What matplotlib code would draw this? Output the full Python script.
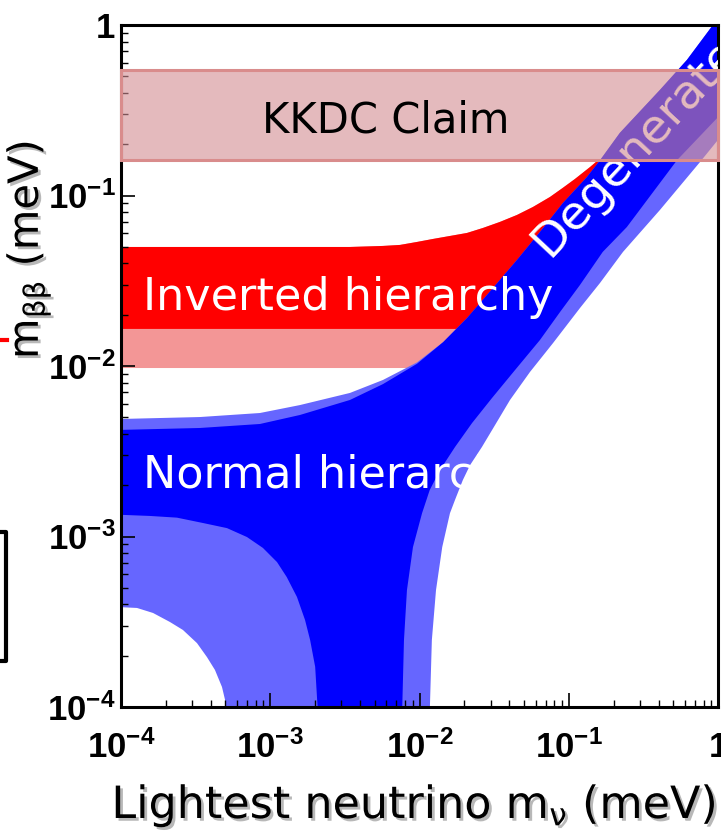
import numpy as np
import matplotlib
matplotlib.use("Agg")
import matplotlib.pyplot as plt
from matplotlib import patheffects
from matplotlib.patches import Rectangle
from matplotlib.lines import Line2D
from matplotlib.ticker import NullFormatter
import matplotlib.transforms as mtransforms

# --- band boundaries (lightest mass, m_bb), same units as the axes ---

# upper edge of the normal / degenerate band
nh_top_x = [1.0e-4, 3.38e-4, 8.53e-4, 1.58e-3, 3.42e-3, 5.69e-3, 9.62e-3, 1.44e-2, 2.08e-2,
            3.10e-2, 4.50e-2, 6.41e-2, 9.14e-2, 0.132, 0.162, 0.220, 0.408, 0.619, 0.925, 1.0]
nh_top_y = [4.22e-3, 4.33e-3, 4.57e-3, 5.16e-3, 6.32e-3, 7.83e-3, 1.03e-2, 1.38e-2, 1.91e-2,
            2.86e-2, 4.19e-2, 6.11e-2, 9.04e-2, 0.128, 0.161, 0.233, 0.416, 0.624, 1.0, 1.10]

# faint outer fringe above the plateau
nh_fringe_x = [1.0e-4, 3.38e-4, 8.53e-4, 1.58e-3, 3.42e-3, 5.69e-3, 9.62e-3]
nh_fringe_y = [4.89e-3, 5.02e-3, 5.30e-3, 5.90e-3, 6.95e-3, 8.28e-3, 1.05e-2]

# lower/right edge of the inner (dark) band
nh_inner_right_x = [1.0, 0.531, 0.245, 0.169, 0.119, 8.73e-2, 6.41e-2, 4.37e-2, 3.06e-2,
                    2.25e-2, 1.73e-2, 1.37e-2, 1.17e-2, 1.04e-2, 9.04e-3, 8.24e-3, 7.87e-3, 7.64e-3]
nh_inner_right_y = [0.288, 0.161, 6.53e-2, 4.67e-2, 2.99e-2, 2.07e-2, 1.42e-2, 9.48e-3, 6.49e-3,
                    4.63e-3, 3.35e-3, 2.45e-3, 1.87e-3, 1.37e-3, 8.67e-4, 4.85e-4, 2.47e-4, 9.0e-5]

# lower/right edge of the outer (light) band
nh_outer_right_x = [1.0, 0.757, 0.408, 0.231, 0.162, 0.119, 7.83e-2, 5.50e-2, 4.04e-2, 3.21e-2,
                    2.62e-2, 2.18e-2, 1.95e-2, 1.73e-2, 1.60e-2, 1.42e-2, 1.29e-2, 1.21e-2, 1.17e-2]
nh_outer_right_y = [0.212, 0.157, 8.22e-2, 4.67e-2, 3.07e-2, 2.19e-2, 1.36e-2, 9.23e-3, 6.32e-3,
                    4.51e-3, 3.35e-3, 2.62e-3, 2.14e-3, 1.64e-3, 1.37e-3, 8.67e-4, 4.85e-4,
                    2.47e-4, 9.0e-5]

# lower-left edge of the dark band (cancellation region)
nh_inner_left_x = [1.0e-4, 1.56e-4, 2.37e-4, 3.54e-4, 5.13e-4, 6.98e-4, 8.93e-4, 1.11e-3,
                   1.29e-3, 1.51e-3, 1.71e-3, 1.85e-3, 2.00e-3, 2.09e-3]
nh_inner_left_y = [1.34e-3, 1.32e-3, 1.29e-3, 1.20e-3, 1.12e-3, 9.93e-4, 8.57e-4, 7.08e-4,
                   5.78e-4, 4.42e-4, 3.24e-4, 2.47e-4, 1.72e-4, 9.0e-5]

# lower-left edge of the light band
nh_outer_left_x = [1.0e-4, 1.28e-4, 1.64e-4, 2.13e-4, 2.60e-4, 3.23e-4, 3.77e-4, 4.26e-4,
                   4.75e-4, 4.98e-4, 5.13e-4]
nh_outer_left_y = [3.85e-4, 3.81e-4, 3.56e-4, 3.15e-4, 2.83e-4, 2.37e-4, 1.96e-4, 1.65e-4,
                   1.31e-4, 1.10e-4, 9.0e-5]

# upper edge of the inverted band
ih_top_x = [1.0e-4, 1.58e-3, 3.42e-3, 5.69e-3, 7.40e-3, 9.62e-3, 1.23e-2, 1.60e-2, 2.08e-2,
            2.66e-2, 3.46e-2, 4.50e-2, 5.75e-2, 7.48e-2, 9.14e-2, 0.110, 0.139, 0.157]
ih_top_y = [4.99e-2, 4.99e-2, 4.99e-2, 5.06e-2, 5.13e-2, 5.34e-2, 5.56e-2, 5.79e-2, 6.03e-2,
            6.45e-2, 7.00e-2, 7.69e-2, 8.56e-2, 9.80e-2, 0.111, 0.125, 0.147, 0.161]

# lower edges of the inverted band (the part right of the plateau sits under the blue band)
ih_light_low_x = [0.238, 0.129, 5.50e-2, 2.18e-2, 1.37e-2, 1.0e-4]
ih_light_low_y = [0.151, 6.28e-2, 2.44e-2, 1.24e-2, 9.73e-3, 9.73e-3]
ih_dark_low_x = [0.238, 0.129, 5.50e-2, 2.97e-2, 1.0e-4]
ih_dark_low_y = [0.151, 6.28e-2, 2.44e-2, 1.65e-2, 1.65e-2]

# claimed signal range
kkdc_low, kkdc_high = 0.162, 0.545

decades = [1e-4, 1e-3, 1e-2, 1e-1, 1]
decade_labels = [r"$\mathregular{10^{-4}}$", r"$\mathregular{10^{-3}}$",
                 r"$\mathregular{10^{-2}}$", r"$\mathregular{10^{-1}}$", "1"]

LIGHT_BLUE = "#6666ff"
DARK_BLUE = "#0000ff"
LIGHT_RED = "#f39696"
DARK_RED = "#ff0000"

W, H = 721, 836
fig = plt.figure(figsize=(W / 100, H / 100), dpi=100)
ax = fig.add_axes([121 / W, 1 - 707 / H, 597 / W, 682 / H])
ax.set_xscale("log")
ax.set_yscale("log")

# inverted hierarchy first, the normal band is drawn over its lower part
ax.fill(np.concatenate([ih_top_x, ih_light_low_x]), np.concatenate([ih_top_y, ih_light_low_y]),
        color=LIGHT_RED, lw=0, zorder=1)
ax.fill(np.concatenate([ih_top_x, ih_dark_low_x]), np.concatenate([ih_top_y, ih_dark_low_y]),
        color=DARK_RED, lw=0, zorder=1.1)

outer_x = np.concatenate([nh_fringe_x, nh_top_x[7:], nh_outer_right_x, nh_outer_left_x[::-1]])
outer_y = np.concatenate([nh_fringe_y, nh_top_y[7:], nh_outer_right_y, nh_outer_left_y[::-1]])
ax.fill(outer_x, outer_y, color=LIGHT_BLUE, lw=0, zorder=1.2)

inner_x = np.concatenate([nh_top_x, nh_inner_right_x, nh_inner_left_x[::-1]])
inner_y = np.concatenate([nh_top_y, nh_inner_right_y, nh_inner_left_y[::-1]])
ax.fill(inner_x, inner_y, color=DARK_BLUE, lw=0, zorder=1.3)

ax.set_xlim(1e-4, 1)
ax.set_ylim(1e-4, 1)

label_font = "DejaVu Sans"
ax.text(1.40e-4, 2.13e-2, "Inverted hierarchy", color="white", fontsize=32,
        family=label_font, va="baseline", ha="left", zorder=4)
ax.text(1.40e-4, 1.92e-3, "Normal hierarchy", color="white", fontsize=32,
        family=label_font, va="baseline", ha="left", zorder=4)
ax.text(0.0740, 0.0430, "Degenerate", color="white", fontsize=34, family=label_font,
        rotation=47, rotation_mode="anchor", ha="left", va="baseline", zorder=4,
        clip_on=True)

# claim box, drawn over the bands and the frame
trans = mtransforms.blended_transform_factory(ax.transAxes, ax.transData)
ax.add_patch(Rectangle((0, kkdc_low), 1, kkdc_high - kkdc_low, transform=trans,
                       facecolor=(210 / 255, 140 / 255, 146 / 255, 0.6),
                       edgecolor="#d98c8c", lw=2.2, zorder=5, clip_on=False))
ax.text(5.97e-3, 0.233, "KKDC Claim", color="black", fontsize=30, family=label_font,
        ha="center", va="baseline", zorder=6)

# frame and ticks
for side in ["left", "bottom", "top", "right"]:
    ax.spines[side].set_linewidth(2.2)
tick_font = ["Liberation Sans Narrow", "Liberation Sans"]
ax.set_xticks(decades)
ax.set_xticklabels(decade_labels, fontsize=25, fontweight="bold", family=tick_font)
ax.set_yticks(decades)
ax.set_yticklabels(decade_labels, fontsize=25, fontweight="bold", family=tick_font)
ax.xaxis.set_minor_formatter(NullFormatter())
ax.yaxis.set_minor_formatter(NullFormatter())
ax.tick_params(which="both", direction="in", top=False, right=False)
ax.tick_params(which="major", length=10, width=1.2)
ax.tick_params(which="minor", length=5, width=1.0)
ax.tick_params(axis="x", which="major", pad=17)
ax.tick_params(axis="y", which="major", pad=4)

shadow = [patheffects.SimplePatchShadow(offset=(2, -2), shadow_rgbFace="0.45", alpha=0.5),
          patheffects.Normal()]
fig.text(28 / W, 1 - 250 / H, r"m$\mathregular{_{\beta\beta}}$ (meV)", rotation=90,
         fontsize=30, family=label_font, ha="center", va="center", path_effects=shadow)
fig.text(414 / W, 1 - 818 / H, r"Lightest neutrino m$\mathregular{_{\nu}}$ (meV)",
         fontsize=32, family=label_font, ha="center", va="baseline", path_effects=shadow)

# bits of neighbouring slide content at the left edge
fig.add_artist(Line2D([0, 7 / W], [1 - 340 / H, 1 - 340 / H], color="red", lw=3))
fig.add_artist(Line2D([0, 6 / W, 6 / W, 0], [1 - 532 / H, 1 - 532 / H, 1 - 661 / H, 1 - 661 / H],
                      color="black", lw=3))

fig.savefig("out.png", dpi=100)
